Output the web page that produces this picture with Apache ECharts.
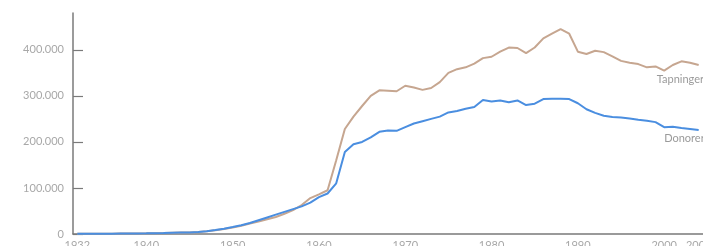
<!DOCTYPE html>
<html>
<head>
<meta charset="utf-8">
<script src="https://cdn.jsdelivr.net/npm/echarts@6/dist/echarts.min.js"></script>
<style>
  html, body { margin: 0; padding: 0; background: #fff; }
  #chart { width: 703px; height: 246px; }
</style>
</head>
<body>
<div id="chart"></div>
<script>
const years = [];
for (let y = 1932; y <= 2004; y++) years.push(String(y));

const tapninger = [
  500, 500, 600, 700, 800, 900, 1000, 1200, 1400, 1700,
  2000, 2500, 3000, 3500, 4500, 6000, 8000, 11000, 14000, 18000,
  23000, 27000, 32000, 37000, 44000, 52000, 63000, 78000, 86000, 95000,
  160000, 228000, 255000, 278000, 300000, 312000, 311000, 310000, 322000, 318000,
  313000, 317000, 330000, 350000, 358000, 362000, 370000, 382000, 385000, 396000,
  405000, 404000, 393000, 405000, 425000, 435000, 445000, 435000, 396000, 391000,
  398000, 395000, 386000, 376000, 372000, 369000, 362000, 364000, 355000, 367000,
  375000, 372000, 367000
];

const donorer = [
  500, 500, 600, 700, 800, 900, 1000, 1200, 1400, 1700,
  2000, 2500, 3000, 3500, 4500, 6000, 8500, 11500, 15000, 19000,
  24000, 30000, 36000, 42000, 48000, 54000, 60000, 68000, 80000, 88000,
  110000, 178000, 195000, 200000, 210000, 222000, 225000, 224000, 232000, 240000,
  245000, 250000, 255000, 264000, 267000, 272000, 276000, 291000, 288000, 290000,
  286000, 290000, 280000, 283000, 293000, 294000, 294000, 293000, 284000, 271000,
  263000, 257000, 254000, 253000, 251000, 248000, 246000, 243000, 232000, 233000,
  230000, 228000, 226000
];

const yTicks = [0, 100000, 200000, 300000, 400000];
const labelYear = '2002';

const labelled = (data, name, offset) =>
  data.map((v, i) =>
    years[i] === labelYear
      ? {
          value: v,
          label: {
            show: true,
            formatter: name,
            position: 'bottom',
            offset: offset,
            color: '#9a9a9a',
            fontFamily: 'Lato',
            fontSize: 11
          }
        }
      : v
  );

const chart = echarts.init(document.getElementById('chart'));
chart.setOption({
  animation: false,
  grid: { left: 73, right: 0, top: 13, bottom: 12, outerBoundsMode: 'none', containLabel: false },
  xAxis: {
    type: 'category',
    data: years,
    boundaryGap: true,
    axisLine: { lineStyle: { color: '#7a7a7a', width: 1.5 } },
    axisTick: { inside: true, length: 3, interval: 0, alignWithLabel: true, lineStyle: { color: '#8a8a8a' } },
    axisLabel: {
      interval: (i, v) => v === '1932' || v === '2004' || Number(v) % 10 === 0,
      hideOverlap: false,
      color: '#a8a8a8',
      fontFamily: 'Lato',
      fontSize: 11,
      margin: 6
    },
    splitLine: { show: false }
  },
  yAxis: {
    type: 'value',
    min: 0,
    max: 480000,
    interval: 100000,
    axisLine: { show: true, lineStyle: { color: '#7a7a7a', width: 1.5 } },
    axisTick: { show: true, inside: true, length: 10, customValues: yTicks, lineStyle: { color: '#7a7a7a', width: 1.2 } },
    axisLabel: {
      customValues: yTicks,
      color: '#a8a8a8',
      fontFamily: 'Lato',
      fontSize: 11,
      margin: 9,
      formatter: (v) => (v === 0 ? '0' : v / 1000 + '.000')
    },
    splitLine: { show: false }
  },
  series: [
    {
      name: 'Tapninger',
      type: 'line',
      data: labelled(tapninger, 'Tapninger', [-1, 8]),
      symbol: 'circle',
      symbolSize: 0,
      showSymbol: true,
      lineStyle: { color: '#c6a690', width: 2 },
      itemStyle: { color: '#c6a690' },
      z: 2
    },
    {
      name: 'Donorer',
      type: 'line',
      data: labelled(donorer, 'Donorer', [3, 0]),
      symbol: 'circle',
      symbolSize: 0,
      showSymbol: true,
      lineStyle: { color: '#4a8ee0', width: 2 },
      itemStyle: { color: '#4a8ee0' },
      z: 3
    }
  ]
});
</script>
</body>
</html>
